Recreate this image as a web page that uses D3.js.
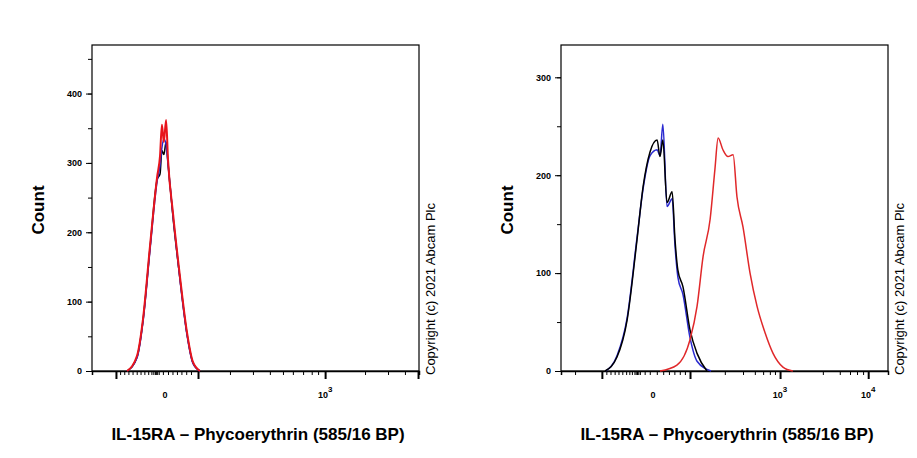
<!DOCTYPE html>
<html>
<head>
<meta charset="utf-8">
<script src="https://cdn.jsdelivr.net/npm/d3@7"></script>
<style>
  body { margin: 0; background: #fff; }
  svg text { font-family: "Liberation Sans", Arial, sans-serif; }
</style>
</head>
<body>
<svg id="chart" width="917" height="458"></svg>
<script>
// x values are display channels (0-1024), y values are counts
const leftX = [110, 141, 160, 182, 204, 213, 219, 225, 232, 238, 254, 276, 297, 316, 338];
const leftRed = [0, 22, 76, 182, 280, 310, 355, 330, 362, 305, 226, 134, 57, 13, 0];
const leftBlue = [0, 19, 72, 176, 274, 296, 322, 335, 326, 298, 222, 129, 53, 11, 0];
const leftBlack = [0, 20, 74, 179, 276, 284, 318, 312, 330, 300, 220, 131, 55, 12, 0];

const rightBlackX = [138, 175, 207, 238, 257, 279, 301, 310, 319, 332, 348, 357, 366, 382, 404, 426, 457];
const rightBlack = [0, 14, 52, 134, 188, 224, 236, 219, 236, 172, 183, 134, 103, 86, 42, 18, 0];
const rightBlueX = [140, 176, 207, 238, 257, 279, 301, 310, 319, 332, 348, 357, 366, 382, 404, 426, 470];
const rightBlue = [0, 16, 54, 136, 186, 220, 226, 220, 252, 168, 176, 128, 96, 78, 34, 10, 0];
const rightRedX = [310, 363, 404, 426, 445, 467, 482, 492, 507, 523, 539, 551, 570, 592, 614, 639, 664, 695, 726];
const rightRed = [0, 6, 32, 66, 117, 155, 206, 238, 226, 219, 221, 178, 147, 100, 66, 39, 18, 4, 0];

const leftMajor = [75, 332, 730, 1021];
const leftMinor = [88, 101, 114, 127, 140, 152, 164, 176, 186, 192, 197, 200, 204, 209, 222, 238, 252, 266, 280, 295, 310, 432, 504, 557, 598, 629, 661, 688, 708, 855, 927, 980];
const leftLabels = [{ch: 229, t: "0"}, {ch: 730, t: "10", sup: "3"}];
const rightMajor = [128, 404, 686, 962];
const rightMinor = [44, 142, 155, 168, 180, 192, 204, 214, 222, 230, 234, 238, 242, 247, 262, 278, 300, 320, 338, 355, 372, 388, 513, 570, 607, 633, 654, 670, 820, 873, 905, 927, 946];
const rightLabels = [{ch: 288, t: "0"}, {ch: 686, t: "10", sup: "3"}, {ch: 962, t: "10", sup: "4"}];

const leftYTicks = [0, 100, 200, 300, 400];
const rightYTicks = [0, 100, 200, 300];

const svg = d3.select("#chart");

function panel(cfg) {
  const x = d3.scaleLinear().domain([0, 1024]).range([cfg.x0, cfg.x0 + 327]);
  const y = d3.scaleLinear().domain([0, cfg.yMax]).range([371, 45]);
  const g = svg.append("g");

  // frame
  g.append("rect").attr("x", cfg.x0).attr("y", 45).attr("width", 327).attr("height", 326)
    .attr("fill", "none").attr("stroke", "#000").attr("stroke-width", 1.2);

  // y axis
  const yMinor = d3.range(0, cfg.yMax, 50);
  g.append("g").attr("transform", `translate(${cfg.x0},0)`)
    .call(d3.axisLeft(y).tickValues(yMinor).tickSize(4).tickFormat(""))
    .call(a => a.select(".domain").remove());
  g.append("g").attr("transform", `translate(${cfg.x0},0)`)
    .call(d3.axisLeft(y).tickValues(cfg.yTicks).tickSize(6).tickPadding(4))
    .call(a => a.select(".domain").remove())
    .call(a => a.selectAll("text").attr("font-size", 9).attr("font-weight", "bold"));

  // x axis
  g.append("g").attr("transform", "translate(0,371)")
    .call(d3.axisBottom(x).tickValues(cfg.minor).tickSize(4).tickFormat(""))
    .call(a => a.select(".domain").attr("stroke-width", 1.5));
  g.append("g").attr("transform", "translate(0,371)")
    .call(d3.axisBottom(x).tickValues(cfg.major).tickSize(8).tickFormat(""))
    .call(a => a.select(".domain").remove())
    .call(a => a.selectAll("line").attr("stroke-width", 2));
  cfg.labels.forEach(l => {
    const t = g.append("text").attr("x", x(l.ch)).attr("y", 398)
      .attr("text-anchor", "middle").attr("font-size", 9).attr("font-weight", "bold").text(l.t);
    if (l.sup) t.append("tspan").attr("dy", -6).attr("font-size", 8).text(l.sup);
  });

  const line = d3.line().x(d => x(d[0])).y(d => y(d[1])).curve(d3.curveMonotoneX);
  cfg.series.forEach(s => {
    g.append("path").datum(d3.zip(s.x, s.y)).attr("d", line)
      .attr("fill", "none").attr("stroke", s.color).attr("stroke-width", s.w || 1.5);
  });

  g.append("text").attr("transform", `translate(${cfg.x0 - 48},210) rotate(-90)`)
    .attr("text-anchor", "middle").attr("font-size", 17).attr("font-weight", "bold").text("Count");
  g.append("text").attr("x", cfg.x0 + 166).attr("y", 440)
    .attr("text-anchor", "middle").attr("font-size", 17).attr("font-weight", "bold")
    .text("IL-15RA \u2013 Phycoerythrin (585/16 BP)");
  g.append("text").attr("transform", `translate(${cfg.x0 + 343},375) rotate(-90)`)
    .attr("font-size", 13).text("Copyright (c) 2021 Abcam Plc");
}

panel({
  x0: 92, yMax: 470, yTicks: leftYTicks, major: leftMajor, minor: leftMinor, labels: leftLabels,
  series: [
    {x: leftX, y: leftBlack, color: "#000"},
    {x: leftX, y: leftBlue, color: "#2a2ad0"},
    {x: leftX, y: leftRed, color: "#e8141c", w: 2}
  ]
});
panel({
  x0: 561, yMax: 333, yTicks: rightYTicks, major: rightMajor, minor: rightMinor, labels: rightLabels,
  series: [
    {x: rightBlueX, y: rightBlue, color: "#2a2ad0"},
    {x: rightBlackX, y: rightBlack, color: "#000"},
    {x: rightRedX, y: rightRed, color: "#e0282a"}
  ]
});
</script>
</body>
</html>
